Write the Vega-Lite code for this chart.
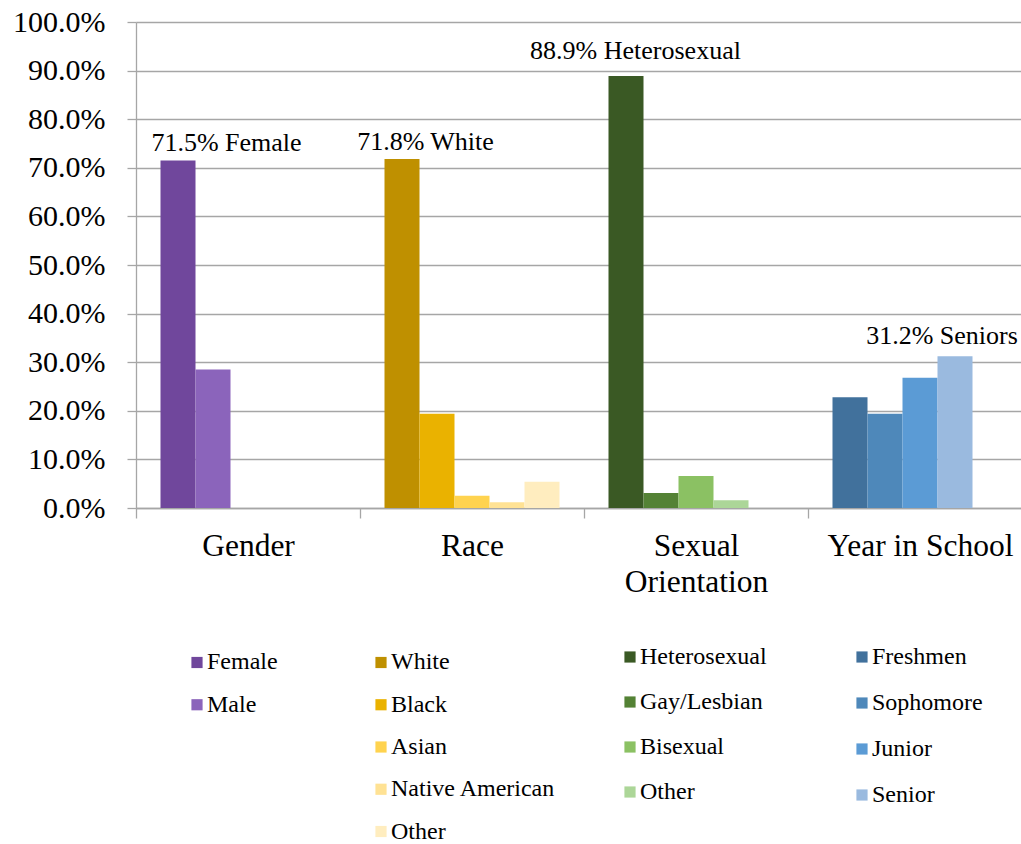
{
  "$schema": "https://vega.github.io/schema/vega-lite/v6.json",
  "padding": {"left": 12, "top": 7, "right": -12, "bottom": 0},
  "config": {
    "view": {"stroke": null},
    "font": "Liberation Serif",
    "text": {"font": "Liberation Serif", "color": "black"}
  },
  "datasets": {
    "bars": [
      {"category": "Gender", "item": "Female", "id": "Gender|Female", "slot": 0, "value": 71.5, "note": "71.5% Female"},
      {"category": "Gender", "item": "Male", "id": "Gender|Male", "slot": 1, "value": 28.5, "note": ""},
      {"category": "Race", "item": "White", "id": "Race|White", "slot": 0, "value": 71.8, "note": "71.8% White"},
      {"category": "Race", "item": "Black", "id": "Race|Black", "slot": 1, "value": 19.4, "note": ""},
      {"category": "Race", "item": "Asian", "id": "Race|Asian", "slot": 2, "value": 2.5, "note": ""},
      {"category": "Race", "item": "Native American", "id": "Race|Native American", "slot": 3, "value": 1.2, "note": ""},
      {"category": "Race", "item": "Other", "id": "Race|Other", "slot": 4, "value": 5.4, "note": ""},
      {"category": "Sexual Orientation", "item": "Heterosexual", "id": "Sexual Orientation|Heterosexual", "slot": 0, "value": 88.9, "note": "88.9% Heterosexual"},
      {"category": "Sexual Orientation", "item": "Gay/Lesbian", "id": "Sexual Orientation|Gay/Lesbian", "slot": 1, "value": 3.1, "note": ""},
      {"category": "Sexual Orientation", "item": "Bisexual", "id": "Sexual Orientation|Bisexual", "slot": 2, "value": 6.6, "note": ""},
      {"category": "Sexual Orientation", "item": "Other", "id": "Sexual Orientation|Other", "slot": 3, "value": 1.6, "note": ""},
      {"category": "Year in School", "item": "Freshmen", "id": "Year in School|Freshmen", "slot": 0, "value": 22.8, "note": ""},
      {"category": "Year in School", "item": "Sophomore", "id": "Year in School|Sophomore", "slot": 1, "value": 19.4, "note": ""},
      {"category": "Year in School", "item": "Junior", "id": "Year in School|Junior", "slot": 2, "value": 26.8, "note": ""},
      {"category": "Year in School", "item": "Senior", "id": "Year in School|Senior", "slot": 3, "value": 31.2, "note": "31.2% Seniors"}
    ]
  },
  "resolve": {"scale": {"x": "independent", "y": "independent"}},
  "spacing": 47,
  "vconcat": [
    {
      "width": 896,
      "height": 486,
      "data": {"name": "bars"},
      "encoding": {
        "x": {
          "field": "category", "type": "nominal",
          "sort": ["Gender", "Race", "Sexual Orientation", "Year in School"],
          "scale": {"paddingInner": 0, "paddingOuter": 0},
          "axis": {
            "title": null, "labelAngle": 0, "tickBand": "extent", "tickSize": 10,
            "tickColor": "#a6a6a6", "domainColor": "#a6a6a6", "tickWidth": 1.3, "domainWidth": 1.3,
            "labelFont": "Liberation Serif", "labelFontSize": 31.5, "labelColor": "black",
            "labelPadding": 12, "labelLimit": 400, "labelLineHeight": 36,
            "labelExpr": "datum.label == 'Sexual Orientation' ? ['Sexual', 'Orientation'] : datum.label"
          }
        },
        "xOffset": {"field": "slot", "type": "ordinal", "scale": {"domain": [0, 1, 2, 3, 4], "paddingInner": 0, "paddingOuter": 0.7}},
        "y": {
          "field": "value", "type": "quantitative",
          "scale": {"domain": [0, 100]},
          "axis": {
            "title": null, "values": [0, 10, 20, 30, 40, 50, 60, 70, 80, 90, 100],
            "labelExpr": "format(datum.value, '.1f') + '%'",
            "grid": true, "gridColor": "#a6a6a6", "gridWidth": 1.3,
            "domainColor": "#a6a6a6", "domainWidth": 1.3, "tickColor": "#a6a6a6", "tickWidth": 1.3, "tickSize": 9,
            "labelFont": "Liberation Serif", "labelFontSize": 30, "labelColor": "black", "labelPadding": 22
          }
        }
      },
      "layer": [
        {
          "mark": {"type": "bar"},
          "encoding": {
            "color": {
              "field": "id", "type": "nominal", "legend": null,
              "scale": {
                "domain": ["Gender|Female", "Gender|Male", "Race|White", "Race|Black", "Race|Asian", "Race|Native American", "Race|Other", "Sexual Orientation|Heterosexual", "Sexual Orientation|Gay/Lesbian", "Sexual Orientation|Bisexual", "Sexual Orientation|Other", "Year in School|Freshmen", "Year in School|Sophomore", "Year in School|Junior", "Year in School|Senior"],
                "range": ["#70479c", "#8b64bb", "#bf9000", "#eab200", "#ffd34f", "#ffe294", "#ffedbf", "#3a5924", "#548235", "#8bc163", "#acd698", "#41719c", "#4e88ba", "#5b9bd5", "#9abadf"]
              }
            }
          }
        },
        {
          "transform": [{"filter": "datum.item == 'Female'"}],
          "mark": {"type": "text", "fontSize": 26, "align": "center", "baseline": "alphabetic", "dx": 48.5, "dy": -10},
          "encoding": {"text": {"field": "note"}}
        },
        {
          "transform": [{"filter": "datum.item == 'White'"}],
          "mark": {"type": "text", "fontSize": 26, "align": "center", "baseline": "alphabetic", "dx": 23.5, "dy": -9},
          "encoding": {"text": {"field": "note"}}
        },
        {
          "transform": [{"filter": "datum.item == 'Heterosexual'"}],
          "mark": {"type": "text", "fontSize": 26, "align": "center", "baseline": "alphabetic", "dx": 9.5, "dy": -17},
          "encoding": {"text": {"field": "note"}}
        },
        {
          "transform": [{"filter": "datum.item == 'Senior'"}],
          "mark": {"type": "text", "fontSize": 26, "align": "center", "baseline": "alphabetic", "dx": -13, "dy": -12},
          "encoding": {"text": {"field": "note"}}
        }
      ]
    },
    {
      "resolve": {"scale": {"x": "independent", "y": "independent"}},
      "spacing": 0,
      "hconcat": [
        {
          "width": 55, "height": 1,
          "data": {"values": []},
          "mark": {"type": "point", "opacity": 0},
          "encoding": {}
        },
        {
          "width": 178, "height": 180,
          "data": {"name": "bars"},
          "transform": [{"filter": "datum.category == 'Gender'"}],
          "encoding": {
            "y": {"field": "slot", "type": "ordinal", "scale": {"type": "point", "domain": [0, 1, 2, 3, 4], "padding": 0.13}, "axis": null},
            "x": {"datum": 0, "type": "quantitative", "scale": {"domain": [0, 1]}, "axis": null}
          },
          "layer": [
            {
              "mark": {"type": "point", "shape": "square", "filled": true, "size": 125, "opacity": 1},
              "encoding": {
                "color": {
                  "field": "id", "type": "nominal", "legend": null,
                  "scale": {
                    "domain": ["Gender|Female", "Gender|Male", "Race|White", "Race|Black", "Race|Asian", "Race|Native American", "Race|Other", "Sexual Orientation|Heterosexual", "Sexual Orientation|Gay/Lesbian", "Sexual Orientation|Bisexual", "Sexual Orientation|Other", "Year in School|Freshmen", "Year in School|Sophomore", "Year in School|Junior", "Year in School|Senior"],
                    "range": ["#70479c", "#8b64bb", "#bf9000", "#eab200", "#ffd34f", "#ffe294", "#ffedbf", "#3a5924", "#548235", "#8bc163", "#acd698", "#41719c", "#4e88ba", "#5b9bd5", "#9abadf"]
                  }
                }
              }
            },
            {
              "mark": {"type": "text", "align": "left", "baseline": "middle", "dx": 10, "fontSize": 24},
              "encoding": {"text": {"field": "item"}}
            }
          ]
        },
        {
          "width": 242.5, "height": 180,
          "data": {"name": "bars"},
          "transform": [{"filter": "datum.category == 'Race'"}],
          "encoding": {
            "y": {"field": "slot", "type": "ordinal", "scale": {"type": "point", "domain": [0, 1, 2, 3, 4], "padding": 0.13}, "axis": null},
            "x": {"datum": 0, "type": "quantitative", "scale": {"domain": [0, 1]}, "axis": null}
          },
          "layer": [
            {
              "mark": {"type": "point", "shape": "square", "filled": true, "size": 125, "opacity": 1},
              "encoding": {
                "color": {
                  "field": "id", "type": "nominal", "legend": null,
                  "scale": {
                    "domain": ["Gender|Female", "Gender|Male", "Race|White", "Race|Black", "Race|Asian", "Race|Native American", "Race|Other", "Sexual Orientation|Heterosexual", "Sexual Orientation|Gay/Lesbian", "Sexual Orientation|Bisexual", "Sexual Orientation|Other", "Year in School|Freshmen", "Year in School|Sophomore", "Year in School|Junior", "Year in School|Senior"],
                    "range": ["#70479c", "#8b64bb", "#bf9000", "#eab200", "#ffd34f", "#ffe294", "#ffedbf", "#3a5924", "#548235", "#8bc163", "#acd698", "#41719c", "#4e88ba", "#5b9bd5", "#9abadf"]
                  }
                }
              }
            },
            {
              "mark": {"type": "text", "align": "left", "baseline": "middle", "dx": 10, "fontSize": 24},
              "encoding": {"text": {"field": "item"}}
            }
          ]
        },
        {
          "width": 225.5, "height": 180,
          "data": {"name": "bars"},
          "transform": [{"filter": "datum.category == 'Sexual Orientation'"}],
          "encoding": {
            "y": {"field": "slot", "type": "ordinal", "scale": {"type": "point", "domain": [0, 1, 2, 3, 4], "padding": 0}, "axis": null},
            "x": {"datum": 0, "type": "quantitative", "scale": {"domain": [0, 1]}, "axis": null}
          },
          "layer": [
            {
              "mark": {"type": "point", "shape": "square", "filled": true, "size": 125, "opacity": 1},
              "encoding": {
                "color": {
                  "field": "id", "type": "nominal", "legend": null,
                  "scale": {
                    "domain": ["Gender|Female", "Gender|Male", "Race|White", "Race|Black", "Race|Asian", "Race|Native American", "Race|Other", "Sexual Orientation|Heterosexual", "Sexual Orientation|Gay/Lesbian", "Sexual Orientation|Bisexual", "Sexual Orientation|Other", "Year in School|Freshmen", "Year in School|Sophomore", "Year in School|Junior", "Year in School|Senior"],
                    "range": ["#70479c", "#8b64bb", "#bf9000", "#eab200", "#ffd34f", "#ffe294", "#ffedbf", "#3a5924", "#548235", "#8bc163", "#acd698", "#41719c", "#4e88ba", "#5b9bd5", "#9abadf"]
                  }
                }
              }
            },
            {
              "mark": {"type": "text", "align": "left", "baseline": "middle", "dx": 10, "fontSize": 24},
              "encoding": {"text": {"field": "item"}}
            }
          ]
        },
        {
          "width": 150, "height": 184,
          "data": {"name": "bars"},
          "transform": [{"filter": "datum.category == 'Year in School'"}],
          "encoding": {
            "y": {"field": "slot", "type": "ordinal", "scale": {"type": "point", "domain": [0, 1, 2, 3, 4], "padding": 0}, "axis": null},
            "x": {"datum": 0, "type": "quantitative", "scale": {"domain": [0, 1]}, "axis": null}
          },
          "layer": [
            {
              "mark": {"type": "point", "shape": "square", "filled": true, "size": 125, "opacity": 1},
              "encoding": {
                "color": {
                  "field": "id", "type": "nominal", "legend": null,
                  "scale": {
                    "domain": ["Gender|Female", "Gender|Male", "Race|White", "Race|Black", "Race|Asian", "Race|Native American", "Race|Other", "Sexual Orientation|Heterosexual", "Sexual Orientation|Gay/Lesbian", "Sexual Orientation|Bisexual", "Sexual Orientation|Other", "Year in School|Freshmen", "Year in School|Sophomore", "Year in School|Junior", "Year in School|Senior"],
                    "range": ["#70479c", "#8b64bb", "#bf9000", "#eab200", "#ffd34f", "#ffe294", "#ffedbf", "#3a5924", "#548235", "#8bc163", "#acd698", "#41719c", "#4e88ba", "#5b9bd5", "#9abadf"]
                  }
                }
              }
            },
            {
              "mark": {"type": "text", "align": "left", "baseline": "middle", "dx": 10, "fontSize": 24},
              "encoding": {"text": {"field": "item"}}
            }
          ]
        }
      ]
    }
  ]
}
